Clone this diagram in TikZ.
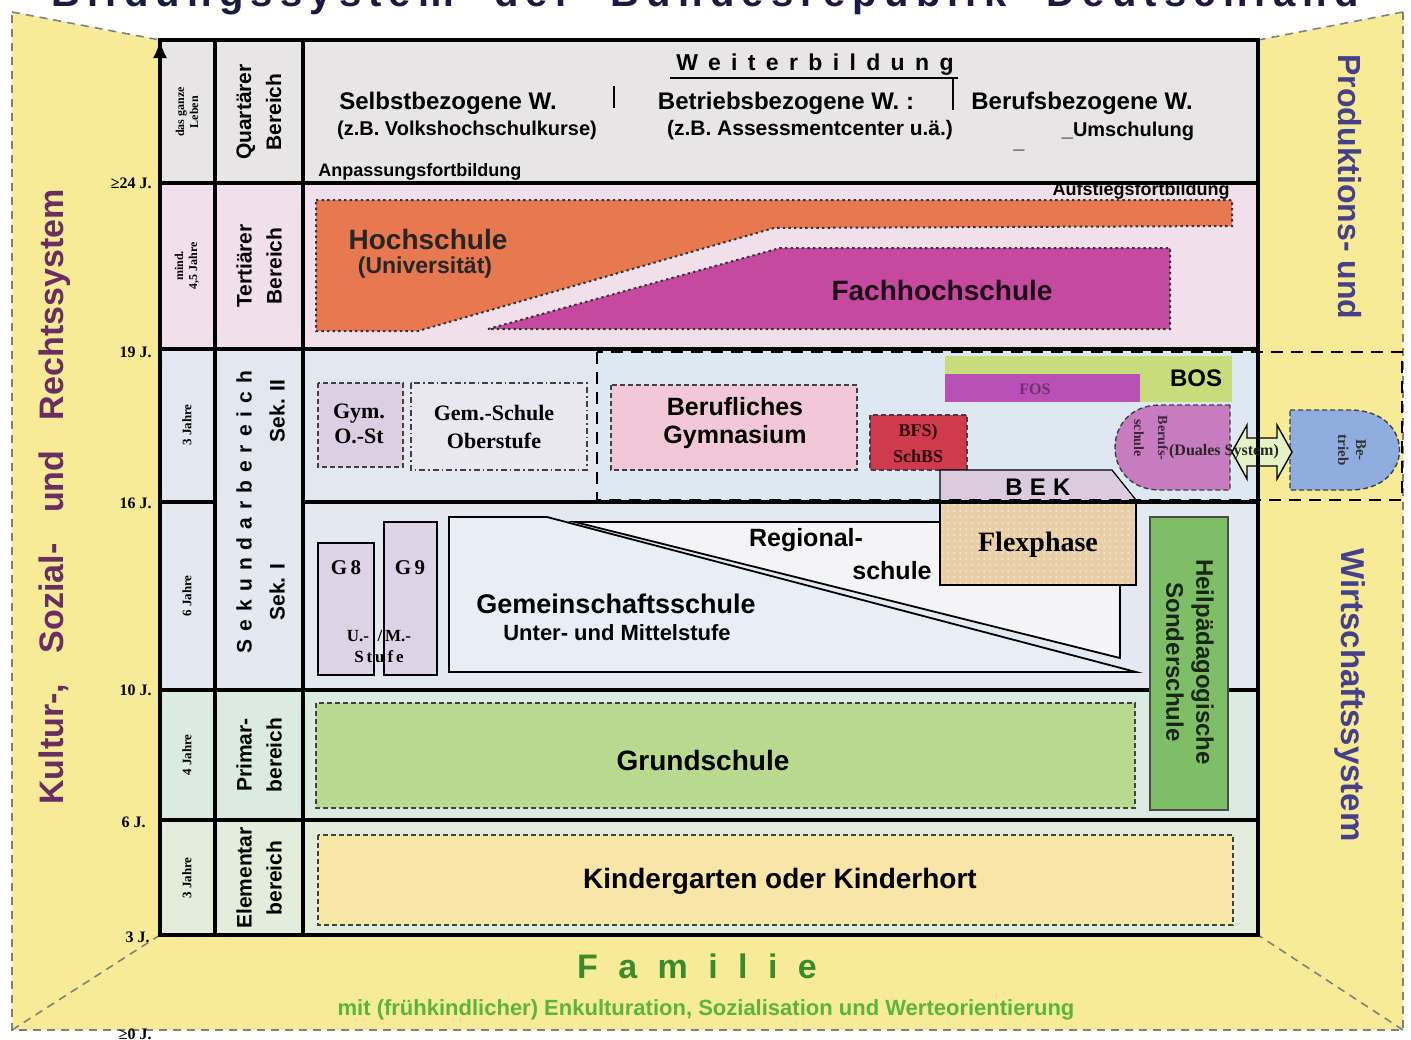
\documentclass[tikz,border=0pt]{standalone}
\usepackage{fontspec}
\setmainfont{Liberation Serif}
\setsansfont{Liberation Sans}
\usetikzlibrary{arrows.meta,patterns}

\definecolor{gelb}{HTML}{F7EB97}
\definecolor{quart}{HTML}{E7E5E6}
\definecolor{tert}{HTML}{F1E0EB}
\definecolor{sekzwei}{HTML}{E3E8F0}
\definecolor{sekblau}{HTML}{DDE8F2}
\definecolor{sekeins}{HTML}{E4E9F1}
\definecolor{prim}{HTML}{DCEBE1}
\definecolor{elem}{HTML}{E4EDDB}
\definecolor{hochschule}{HTML}{E8784F}
\definecolor{fachhs}{HTML}{C54A9F}
\definecolor{gymlila}{HTML}{DCCFE3}
\definecolor{gemhell}{HTML}{E9E7EF}
\definecolor{bgrosa}{HTML}{F2C7D7}
\definecolor{bfsrot}{HTML}{CF3A4C}
\definecolor{bosgruen}{HTML}{C9DC7B}
\definecolor{foslila}{HTML}{B950B6}
\definecolor{beklila}{HTML}{DACBDE}
\definecolor{flex}{HTML}{E9CFA7}
\definecolor{bslila}{HTML}{C77CBF}
\definecolor{pfeilgruen}{HTML}{E5F2C6}
\definecolor{betrieb}{HTML}{8FAEDF}
\definecolor{glila}{HTML}{DDD2E6}
\definecolor{gemschule}{HTML}{E9EDF6}
\definecolor{regschule}{HTML}{F4F4F6}
\definecolor{heilpaed}{HTML}{7DBE67}
\definecolor{grundschule}{HTML}{B9D990}
\definecolor{kiga}{HTML}{F7E6A8}
\definecolor{famgruen}{HTML}{3B8A2B}
\definecolor{mitgruen}{HTML}{5CB53B}
\definecolor{kulturlila}{HTML}{6A2E62}
\definecolor{wirtblau}{HTML}{45408A}
\definecolor{titelblau}{HTML}{1B1B40}

\newcommand\fsz[2]{\fontsize{#1}{#2}\selectfont}

\tikzset{
  rahmen/.style={line width=1.6pt},
  aussen/.style={draw=gray, line width=0.8pt, dash pattern=on 4pt off 3pt},
  strich/.style={line width=0.7pt, dash pattern=on 2.5pt off 1.5pt, draw=black!75},
  punkt/.style={line width=1pt, dash pattern=on 1.2pt off 1.6pt, draw=black!80},
  fett/.style={font=\sffamily\bfseries, inner sep=0pt, align=center},
  serif/.style={font=\rmfamily\bfseries, inner sep=0pt, align=center},
}

\begin{document}
\begin{tikzpicture}[x=0.5pt,y=-0.5pt]
	\fill[white] (0,0) rectangle (1411,1039);
	\useasboundingbox (0,0) rectangle (1411,1039);

	\fill[gelb] (12,12) -- (160,40) -- (160,935) -- (12,1030) -- cycle;
	\fill[gelb] (1403,12) -- (1258,40) -- (1258,935) -- (1403,1030) -- cycle;
	\fill[gelb] (12,1030) -- (160,935) -- (1258,935) -- (1403,1030) -- cycle;
	\draw[aussen] (1403,12) -- (1403,1030) -- (12,1030) -- (12,12);
	\draw[aussen] (12,12) -- (160,40);
	\draw[aussen] (1403,12) -- (1258,40);
	\draw[aussen] (12,1030) -- (160,935);
	\draw[aussen] (1403,1030) -- (1258,935);

	\fill[quart] (160,40) rectangle (1258,183);
	\fill[tert] (160,183) rectangle (1258,349);
	\fill[sekzwei] (160,349) rectangle (1258,502);
	\fill[sekeins] (160,502) rectangle (1258,690);
	\fill[prim] (160,690) rectangle (1258,820);
	\fill[elem] (160,820) rectangle (1258,935);
	\fill[sekblau] (597,352) rectangle (1258,500);

	\draw[punkt, fill=hochschule] (316,200) -- (1232,200) -- (1232,226) -- (774,228) -- (418,331) -- (316,331) -- cycle;
	\draw[punkt, fill=fachhs] (488,329) -- (780,248) -- (1170,248) -- (1170,329) -- cycle;

	\draw[strich, fill=gymlila] (318,383) rectangle (403,467);
	\draw[strich, dash pattern=on 3pt off 1.5pt on 0.8pt off 1.5pt, fill=gemhell] (411,383) rectangle (587,470);
	\draw[strich, fill=bgrosa] (611,385) rectangle (857,470);
	\draw[strich, fill=bfsrot] (870,415) rectangle (967,470);
	\fill[bosgruen] (945,356) rectangle (1232,402);
	\fill[foslila] (945,374) rectangle (1140,402);
	\draw[strich, fill=bslila] (1230,405) -- (1160,405) .. controls (1100,405) and (1100,490) .. (1160,490) -- (1230,490) -- cycle;
	\draw[strich, fill=betrieb] (1290,410) -- (1350,410) .. controls (1416,410) and (1416,490) .. (1350,490) -- (1290,490) -- cycle;
	\draw[line width=0.7pt, fill=pfeilgruen] (1232,452) -- (1247,425) -- (1247,438) -- (1277,438) -- (1277,425) -- (1292,452) -- (1277,479) -- (1277,466) -- (1247,466) -- (1247,479) -- cycle;

	\draw[line width=0.8pt, fill=glila] (318,543) rectangle (374,675);
	\draw[line width=0.8pt, fill=glila] (384,522) rectangle (437,675);
	\draw[line width=0.9pt, fill=gemschule] (449,517) -- (547,517) -- (1136,672) -- (449,672) -- cycle;
	\draw[line width=0.9pt, fill=regschule] (575,522) -- (1120,522) -- (1120,658) -- cycle;

	\draw[line width=0.6pt, fill=beklila] (940,502) -- (940,470) -- (1112,470) -- (1136,500) -- (1136,502);
	\draw[line width=0.8pt, fill=flex] (940,502) rectangle (1136,585);
	\fill[pattern=dots, pattern color=white!55!flex] (942,504) rectangle (1134,583);

	\draw[strich, fill=grundschule] (316,703) rectangle (1135,808);
	\draw[strich, fill=kiga] (318,835) rectangle (1233,925);

	\draw[rahmen] (160,40) rectangle (1258,935);
	\foreach \y in {183,349,690,820}
		\draw[rahmen] (160,\y) -- (1258,\y);
	\draw[rahmen] (160,502) -- (215,502);
	\draw[rahmen] (303,502) -- (1258,502);
	\draw[rahmen] (215,40) -- (215,935);
	\draw[rahmen] (303,40) -- (303,935);
	\draw[line width=1.4pt, dash pattern=on 6pt off 4pt] (597,352) rectangle (1402,500);
	\draw[line width=1pt, draw=black!70, fill=heilpaed] (1150,517) rectangle (1228,810);

	\coordinate (null) at (160,935);
	\coordinate (leben) at (160,40);
	\draw[line width=1.6pt, -{Latex[length=9pt,width=7pt]}] (null) -- (leben);

	\node[anchor=base, font=\sffamily\bfseries\fsz{20}{22}\addfontfeatures{LetterSpace=18}, text=titelblau] (titel) at (705,6) {Bildungssystem\quad der\quad Bundesrepublik\quad Deutschland};

	\node[serif, anchor=east, font=\rmfamily\bfseries\fsz{8}{9}] (a24) at (152,183) {≥24 J.};
	\node[serif, anchor=east, font=\rmfamily\bfseries\fsz{8}{9}] (a19) at (152,352) {19 J.};
	\node[serif, anchor=east, font=\rmfamily\bfseries\fsz{8}{9}] (a16) at (152,503) {16 J.};
	\node[serif, anchor=east, font=\rmfamily\bfseries\fsz{8}{9}] (a10) at (152,690) {10 J.};
	\node[serif, anchor=east, font=\rmfamily\bfseries\fsz{8}{9}] (a6) at (146,822) {6 J.};
	\node[serif, anchor=east, font=\rmfamily\bfseries\fsz{8}{9}] (a3) at (150,937) {3 J.};
	\node[serif, anchor=east, font=\rmfamily\bfseries\fsz{8}{9}] (a0) at (152,1034) {≥0 J.};

	\node[serif, rotate=90, font=\rmfamily\bfseries\fsz{6}{7}] (d1) at (187,112) {das ganze\\Leben};
	\node[serif, rotate=90, font=\rmfamily\bfseries\fsz{6}{7}] (d2) at (187,266) {mind.\\4,5 Jahre};
	\node[serif, rotate=90, font=\rmfamily\bfseries\fsz{6.5}{7}] (d3) at (187,425) {3 Jahre};
	\node[serif, rotate=90, font=\rmfamily\bfseries\fsz{6.5}{7}] (d4) at (187,596) {6 Jahre};
	\node[serif, rotate=90, font=\rmfamily\bfseries\fsz{6.5}{7}] (d5) at (187,755) {4 Jahre};
	\node[serif, rotate=90, font=\rmfamily\bfseries\fsz{6.5}{7}] (d6) at (187,878) {3 Jahre};

	\node[fett, rotate=90, font=\sffamily\bfseries\fsz{10.5}{15}] (quartaer) at (259,112) {Quartärer\\Bereich};
	\node[fett, rotate=90, font=\sffamily\bfseries\fsz{10.5}{15}] (tertiaer) at (259,266) {Tertiärer\\Bereich};
	\node[fett, rotate=90, font=\sffamily\bfseries\fsz{10.5}{12}\addfontfeatures{LetterSpace=38}] (sekundar) at (244,512) {Sekundarbereich};
	\node[fett, rotate=90, font=\sffamily\bfseries\fsz{10.5}{12}] (sekzwei) at (277,411) {Sek. II};
	\node[fett, rotate=90, font=\sffamily\bfseries\fsz{10.5}{12}] (sekeins) at (277,592) {Sek. I};
	\node[fett, rotate=90, font=\sffamily\bfseries\fsz{10.5}{15}] (primar) at (259,755) {Primar-\\bereich};
	\node[fett, rotate=90, font=\sffamily\bfseries\fsz{10.5}{15}] (element) at (259,878) {Elementar\\bereich};

	\node[fett, rotate=90, font=\sffamily\bfseries\fsz{17}{18}, text=kulturlila] (kultur) at (55,497) {Kultur-,\hspace{0.9em}Sozial-\hspace{0.9em}und\hspace{0.9em}Rechtssystem};
	\node[fett, rotate=-90, font=\sffamily\bfseries\fsz{16}{18}, text=wirtblau] (produktion) at (1350,187) {Produktions- und};
	\node[fett, rotate=-90, font=\sffamily\bfseries\fsz{16.5}{18}, text=wirtblau] (wirtschaft) at (1350,695) {Wirtschaftssystem};

	\node[fett, font=\sffamily\bfseries\fsz{11.5}{13}\addfontfeatures{LetterSpace=45}] (weiter) at (815,65) {Weiterbildung};
	\coordinate (ul) at (670,78);
	\coordinate (ur) at (958,78);
	\draw[line width=1.2pt] (ul) -- (ur);
	\coordinate (t1o) at (614,86);
	\coordinate (t1u) at (614,108);
	\coordinate (t2o) at (953,78);
	\coordinate (t2u) at (953,110);
	\draw[line width=1.2pt] (t1o) -- (t1u);
	\draw[line width=1.2pt] (t2o) -- (t2u);
	\node[fett, font=\sffamily\bfseries\fsz{12}{13}] (selbst) at (448,103) {Selbstbezogene W.};
	\node[fett, font=\sffamily\bfseries\fsz{10}{12}] (vhs) at (467,130) {(z.B. Volkshochschulkurse)};
	\node[fett, font=\sffamily\bfseries\fsz{12}{13}] (betrieblich) at (786,103) {Betriebsbezogene W. :};
	\node[fett, font=\sffamily\bfseries\fsz{10.5}{12}] (assess) at (810,130) {(z.B. Assessmentcenter u.ä.)};
	\node[fett, font=\sffamily\bfseries\fsz{12}{13}] (beruflich) at (1082,103) {Berufsbezogene W.};
	\node[fett, font=\sffamily\bfseries\fsz{10}{12}] (umschul) at (1128,131) {\_Umschulung};
	\node[fett, font=\sffamily\bfseries\fsz{10}{12}] (strichlein) at (1019,150) {\_};
	\node[fett, anchor=west, font=\sffamily\bfseries\fsz{9}{10}] (anpassung) at (318,172) {Anpassungsfortbildung};
	\node[fett, anchor=east, font=\sffamily\bfseries\fsz{9}{10}] (aufstieg) at (1230,191) {Aufstiegsfortbildung};

	\node[fett, font=\sffamily\bfseries\fsz{14}{15}, text=black!85] (hs) at (428,239) {Hochschule};
	\node[fett, font=\sffamily\bfseries\fsz{11.5}{13}, text=black!85] (uni) at (425,268) {(Universität)};
	\node[fett, font=\sffamily\bfseries\fsz{14}{15}, text=black!85!fachhs] (fh) at (942,290) {Fachhochschule};

	\node[serif, font=\rmfamily\bfseries\fsz{11}{12.5}] (gymost) at (359,424) {Gym.\\O.-St};
	\node[serif, font=\rmfamily\bfseries\fsz{11}{14}] (gemost) at (494,427) {Gem.-Schule\\Oberstufe};
	\node[fett, font=\sffamily\bfseries\fsz{12.5}{14}] (bgym) at (735,423) {Berufliches\\Gymnasium};
	\node[serif, font=\rmfamily\bfseries\fsz{9}{13}, text=black!80!bfsrot] (bfs) at (918,443) {BFS)\\SchBS};
	\node[serif, font=\rmfamily\bfseries\fsz{8}{9}, text=black!40!foslila] (fos) at (1035,389) {FOS};
	\node[fett, font=\sffamily\bfseries\fsz{12}{13}] (bos) at (1196,378) {BOS};
	\node[fett, font=\sffamily\bfseries\fsz{12}{13}\addfontfeatures{LetterSpace=30}] (bek) at (1038,487) {BEK};
	\node[serif, font=\rmfamily\bfseries\fsz{14}{15}] (flexphase) at (1038,545) {Flexphase};
	\node[serif, rotate=-90, font=\rmfamily\bfseries\fsz{7}{12}, text=black!70!bslila] (bs) at (1151,438) {Berufs-\\schule};
	\node[serif, font=\rmfamily\bfseries\fsz{8}{9}, text=black!85] (dual) at (1224,452) {(Duales System)};
	\node[serif, rotate=-90, font=\rmfamily\bfseries\fsz{7.5}{9}, text=black!80] (betr) at (1352,450) {Be-\\trieb};

	\node[serif, font=\rmfamily\bfseries\fsz{10.5}{12}] (geight) at (346,568) {G\,8};
	\node[serif, font=\rmfamily\bfseries\fsz{10.5}{12}] (gnine) at (410,568) {G\,9};
	\node[serif, font=\rmfamily\bfseries\fsz{8.5}{10.5}] (stufe) at (379,646) {U.-\enspace/\,M.-\\S\,t\,u\,f\,e};
	\node[fett, font=\sffamily\bfseries\fsz{12.5}{14}] (regional) at (806,540) {Regional-};
	\node[fett, font=\sffamily\bfseries\fsz{12.5}{14}] (regschule) at (892,571) {schule};
	\node[fett, font=\sffamily\bfseries\fsz{13.5}{15}] (gms) at (616,604) {Gemeinschaftsschule};
	\node[fett, font=\sffamily\bfseries\fsz{11}{13}] (unter) at (617,633) {Unter- und Mittelstufe};
	\node[fett, rotate=-90, font=\sffamily\bfseries\fsz{12}{15}, text=black!80!heilpaed] (sonder) at (1190,662) {Heilpädagogische\\Sonderschule};

	\node[fett, font=\sffamily\bfseries\fsz{14}{15}] (grund) at (703,760) {Grundschule};
	\node[fett, font=\sffamily\bfseries\fsz{14}{15}] (kita) at (780,881) {Kindergarten oder Kinderhort};

	\node[fett, font=\sffamily\bfseries\fsz{17}{18}\addfontfeatures{LetterSpace=60}, text=famgruen] (familie) at (697,966) {Familie};
	\node[fett, font=\sffamily\bfseries\fsz{11}{12}, text=mitgruen] (mit) at (706,1010) {mit (frühkindlicher) Enkulturation, Sozialisation und Werteorientierung};
\end{tikzpicture}
\end{document}
